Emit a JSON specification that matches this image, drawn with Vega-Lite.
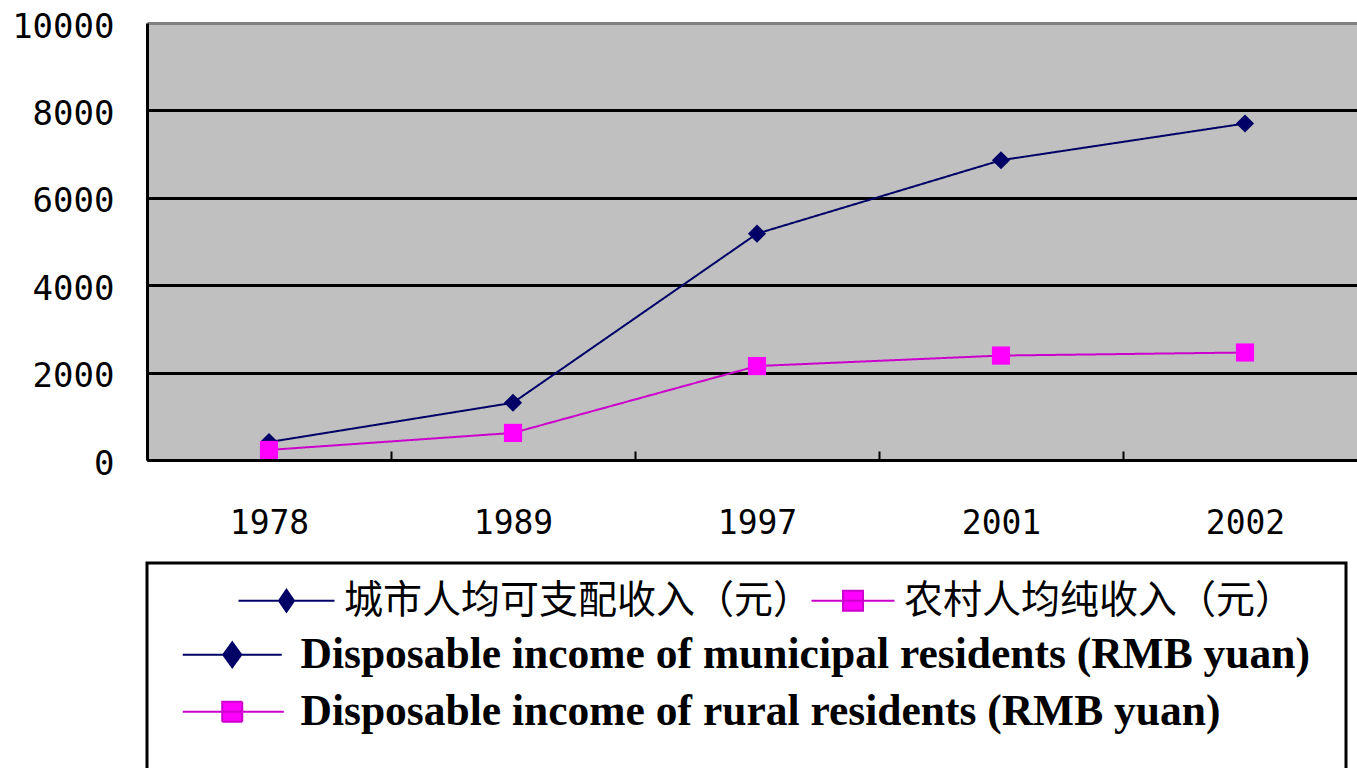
{
  "$schema": "https://vega.github.io/schema/vega-lite/v6.json",
  "autosize": {"type": "none"},
  "padding": {"left": 147, "top": 23, "right": 0, "bottom": 308},
  "width": 1220,
  "height": 437,
  "background": "white",
  "view": {"fill": "#c0c0c0", "stroke": null},
  "data": {
    "values": [
      {"year": "1978", "cn": "城市人均可支配收入（元）", "en": "Disposable income of municipal residents (RMB yuan)", "value": 410},
      {"year": "1989", "cn": "城市人均可支配收入（元）", "en": "Disposable income of municipal residents (RMB yuan)", "value": 1310},
      {"year": "1997", "cn": "城市人均可支配收入（元）", "en": "Disposable income of municipal residents (RMB yuan)", "value": 5180},
      {"year": "2001", "cn": "城市人均可支配收入（元）", "en": "Disposable income of municipal residents (RMB yuan)", "value": 6860},
      {"year": "2002", "cn": "城市人均可支配收入（元）", "en": "Disposable income of municipal residents (RMB yuan)", "value": 7700},
      {"year": "1978", "cn": "农村人均纯收入（元）", "en": "Disposable income of rural residents (RMB yuan)", "value": 230},
      {"year": "1989", "cn": "农村人均纯收入（元）", "en": "Disposable income of rural residents (RMB yuan)", "value": 620},
      {"year": "1997", "cn": "农村人均纯收入（元）", "en": "Disposable income of rural residents (RMB yuan)", "value": 2150},
      {"year": "2001", "cn": "农村人均纯收入（元）", "en": "Disposable income of rural residents (RMB yuan)", "value": 2390},
      {"year": "2002", "cn": "农村人均纯收入（元）", "en": "Disposable income of rural residents (RMB yuan)", "value": 2460}
    ]
  },
  "encoding": {
    "x": {
      "field": "year", "type": "nominal",
      "scale": {"type": "band", "paddingInner": 0, "paddingOuter": 0},
      "axis": {
        "title": null, "labelAngle": 0, "labelFont": "DejaVu Sans Mono", "labelFontSize": 33,
        "labelColor": "black", "labelPadding": 56, "tickBand": "extent", "tickSize": -9,
        "tickWidth": 2, "tickColor": "black", "domainColor": "black", "domainWidth": 3, "grid": false
      }
    },
    "y": {
      "field": "value", "type": "quantitative",
      "scale": {"domain": [0, 10000], "nice": false},
      "axis": {
        "title": null, "values": [0, 2000, 4000, 6000, 8000, 10000], "format": "d", "ticks": false,
        "labelFont": "DejaVu Sans Mono", "labelFontSize": 34, "labelColor": "black",
        "labelPadding": 33, "labelOffset": 4, "domainColor": "black", "domainWidth": 3,
        "grid": true, "gridWidth": 3,
        "gridColor": {"condition": {"test": "datum.value == 10000", "value": "#808080"}, "value": "black"}
      }
    }
  },
  "layer": [
    {
      "mark": {"type": "line", "strokeWidth": 2},
      "encoding": {
        "stroke": {
          "field": "cn", "type": "nominal",
          "scale": {"domain": ["城市人均可支配收入（元）", "农村人均纯收入（元）"], "range": ["#000066", "#cc00cc"]},
          "legend": {
            "orient": "none", "legendX": 120, "legendY": 558, "direction": "horizontal", "title": null,
            "padding": 0, "labelFont": "Noto Sans CJK SC", "labelFontSize": 39, "labelColor": "black",
            "labelLimit": 2000, "symbolSize": 400, "symbolStrokeWidth": 2, "labelOffset": 38, "columnPadding": -6,
            "encode": {
              "symbols": {
                "update": {
                  "shape": {"signal": "datum.index === 0 ? 'M-4.8,0H4.8M0,-1.1L0.75,0L0,1.1L-0.75,0Z' : 'M-3.5,0H4.8M-0.35,-1H1.65V1H-0.35Z'"},
                  "fill": {"signal": "datum.index === 0 ? '#000066' : '#ff00ff'"},
                  "stroke": {"signal": "datum.index === 0 ? '#000066' : '#cc00cc'"},
                  "strokeWidth": {"value": 2}
                }
              }
            }
          }
        },
        "strokeDash": {
          "field": "en", "type": "nominal",
          "scale": {"domain": ["Disposable income of municipal residents (RMB yuan)", "Disposable income of rural residents (RMB yuan)"], "range": [[1, 0], [1, 0]]},
          "legend": {
            "orient": "none", "legendX": 0, "legendY": 540, "direction": "vertical", "title": " ",
            "titleFontSize": 24, "titlePadding": 10, "padding": 36, "strokeColor": "black",
            "labelFont": "Liberation Serif", "labelFontWeight": "bold", "labelFontSize": 43.5, "labelColor": "black",
            "labelLimit": 2000, "symbolSize": 400, "symbolStrokeWidth": 2, "labelOffset": 74, "rowPadding": 12,
            "encode": {
              "legend": {"update": {"strokeWidth": {"value": 3}}},
              "symbols": {
                "update": {
                  "shape": {"signal": "datum.index === 0 ? 'M-2.2,0H7.7M2.75,-1.25L3.65,0L2.75,1.25L1.85,0Z' : 'M-2.2,0H7.9M1.75,-1H3.75V1H1.75Z'"},
                  "fill": {"signal": "datum.index === 0 ? '#000066' : '#ff00ff'"},
                  "stroke": {"signal": "datum.index === 0 ? '#000066' : '#cc00cc'"},
                  "strokeWidth": {"value": 2},
                  "strokeDash": {"value": [1, 0]}
                }
              }
            }
          }
        }
      }
    },
    {
      "transform": [{"filter": "datum.en === 'Disposable income of municipal residents (RMB yuan)'"}],
      "mark": {"type": "point", "filled": true, "opacity": 1, "size": 330, "shape": "diamond", "fill": "#000066"}
    },
    {
      "transform": [{"filter": "datum.en === 'Disposable income of rural residents (RMB yuan)'"}],
      "mark": {"type": "point", "filled": true, "opacity": 1, "size": 330, "shape": "square", "fill": "#ff00ff"}
    }
  ]
}
